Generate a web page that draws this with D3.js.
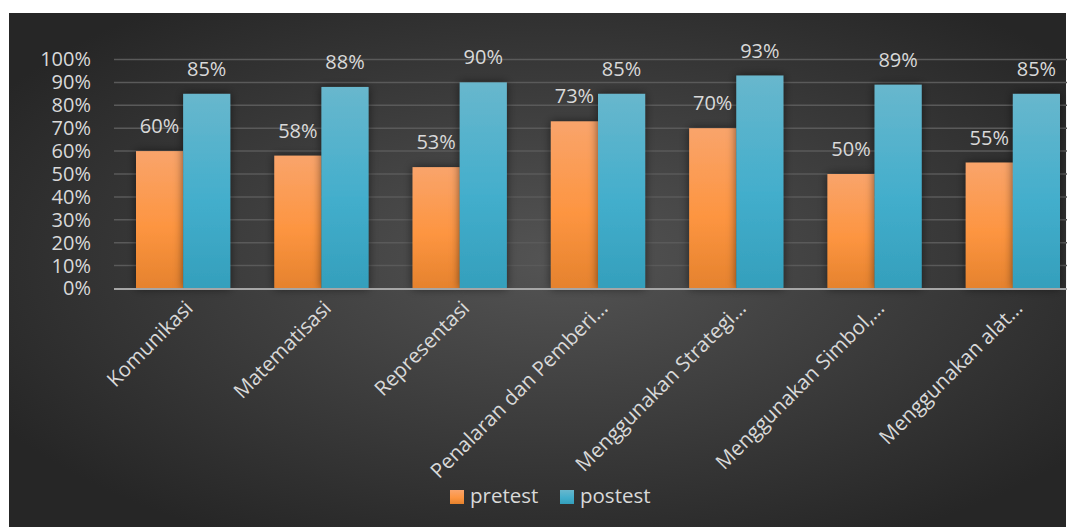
<!DOCTYPE html>
<html>
<head>
<meta charset="utf-8">
<script src="https://cdn.jsdelivr.net/npm/d3@7"></script>
<style>
  html, body { margin: 0; padding: 0; background: #fff; }
  svg { display: block; }
  text { font-family: "Open Sans", "Noto Sans", sans-serif; fill: #d9d9d9; }
</style>
</head>
<body>
<svg id="chart" width="1067" height="527"></svg>
<script>
const categories = [
  'Komunikasi',
  'Matematisasi',
  'Representasi',
  'Penalaran dan Pemberi…',
  'Menggunakan Strategi…',
  'Menggunakan Simbol,…',
  'Menggunakan alat…'
];
const pretest = [60, 58, 53, 73, 70, 50, 55];
const postest = [85, 88, 90, 85, 93, 89, 85];
const seriesNames = ['pretest', 'postest'];
const yTicks = [0, 10, 20, 30, 40, 50, 60, 70, 80, 90, 100];

const width = 1067, height = 527;
const plotLeft = 114, plotRight = 1082, plotTop = 59.5, plotBottom = 288.5;

const svg = d3.select('#chart');
const defs = svg.append('defs');

// background panel gradient
let bg = defs.append('radialGradient')
  .attr('id', 'bg-grad')
  .attr('cx', '52%').attr('cy', '48%').attr('r', '62%');
bg.append('stop').attr('offset', '0%').attr('stop-color', '#545454');
bg.append('stop').attr('offset', '100%').attr('stop-color', '#262626');

const addBarGrad = (id, top, mid, bottom) => {
  let g = defs.append('linearGradient').attr('id', id)
    .attr('x1', 0).attr('y1', 0).attr('x2', 0).attr('y2', 1);
  g.append('stop').attr('offset', '0%').attr('stop-color', top);
  g.append('stop').attr('offset', '55%').attr('stop-color', mid);
  g.append('stop').attr('offset', '100%').attr('stop-color', bottom);
};
addBarGrad('grad-pretest', '#f9a46b', '#fd9541', '#e5822d');
addBarGrad('grad-postest', '#68b7cd', '#43aecc', '#349fbc');

let shadow = defs.append('filter').attr('id', 'bar-shadow')
  .attr('x', '-40%').attr('y', '-20%').attr('width', '180%').attr('height', '140%');
shadow.append('feDropShadow')
  .attr('dx', 0).attr('dy', 0).attr('stdDeviation', 5)
  .attr('flood-color', '#000').attr('flood-opacity', 0.55);

svg.append('rect')
  .attr('x', 9).attr('y', 13)
  .attr('width', width - 10).attr('height', height - 13)
  .attr('fill', 'url(#bg-grad)');

const x0 = d3.scaleBand().domain(categories).range([plotLeft, plotRight]).padding(0);
const x1 = d3.scaleBand().domain(seriesNames)
  .range([22, x0.bandwidth() - 22]).padding(0);
const y = d3.scaleLinear().domain([0, 100]).range([plotBottom, plotTop]);

// grid lines
svg.append('g').attr('class', 'grid')
  .selectAll('line')
  .data(yTicks.filter(d => d > 0))
  .enter().append('line')
  .attr('x1', plotLeft).attr('x2', plotRight)
  .attr('y1', d => y(d)).attr('y2', d => y(d))
  .attr('stroke', '#5a5a5a')
  .attr('stroke-width', 1.5);

// y axis labels
let yAxis = d3.axisLeft(y).tickValues(yTicks).tickFormat(d => d + '%').tickSize(0).tickPadding(0);
let yG = svg.append('g').attr('transform', 'translate(91,0)').call(yAxis);
yG.select('.domain').remove();
yG.selectAll('text')
  .attr('font-size', 20)
  .attr('fill', '#d9d9d9')
  .attr('font-family', '"Open Sans", sans-serif');

const seriesData = { pretest: pretest, postest: postest };

let groups = svg.append('g').attr('class', 'bars')
  .selectAll('g')
  .data(seriesNames)
  .enter().append('g')
  .attr('class', d => `series-${d}`);

groups.selectAll('rect')
  .data(s => categories.map((c, i) => ({ key: s, cat: c, value: seriesData[s][i] })))
  .enter().append('rect')
  .attr('x', d => x0(d.cat) + x1(d.key))
  .attr('y', d => y(d.value))
  .attr('width', x1.bandwidth())
  .attr('height', d => y(0) - y(d.value))
  .attr('fill', d => `url(#grad-${d.key})`)
  .attr('filter', 'url(#bar-shadow)');

// x axis line
svg.append('line')
  .attr('x1', plotLeft).attr('x2', plotRight)
  .attr('y1', plotBottom + 0.5).attr('y2', plotBottom + 0.5)
  .attr('stroke', '#a6a6a6')
  .attr('stroke-width', 2);

// data labels
let labels = svg.append('g').attr('class', 'labels');
seriesNames.forEach(s => {
  labels.selectAll(`.label-${s}`)
    .data(categories.map((c, i) => ({ cat: c, value: seriesData[s][i] })))
    .enter().append('text')
    .attr('class', `label-${s}`)
    .attr('x', d => x0(d.cat) + x1(s) + x1.bandwidth() / 2)
    .attr('y', d => y(d.value) - 18)
    .attr('text-anchor', 'middle')
    .attr('font-size', 20)
    .text(d => d.value + '%');
});

// category labels
svg.append('g').attr('class', 'x-labels')
  .selectAll('text')
  .data(categories)
  .enter().append('text')
  .attr('transform', d => `translate(${x0(d) + x0.bandwidth() / 2 + 11},${plotBottom + 21}) rotate(-45)`)
  .attr('text-anchor', 'end')
  .attr('font-size', 20.5)
  .text(d => d);

// legend
let legend = svg.append('g').attr('class', 'legend');
let legendX = [450, 560];
seriesNames.forEach((s, i) => {
  legend.append('rect')
    .attr('x', legendX[i]).attr('y', 490)
    .attr('width', 14).attr('height', 14)
    .attr('fill', `url(#grad-${s})`);
  legend.append('text')
    .attr('x', legendX[i] + 20).attr('y', 503)
    .attr('font-size', 20.5)
    .text(s);
});
</script>
</body>
</html>
